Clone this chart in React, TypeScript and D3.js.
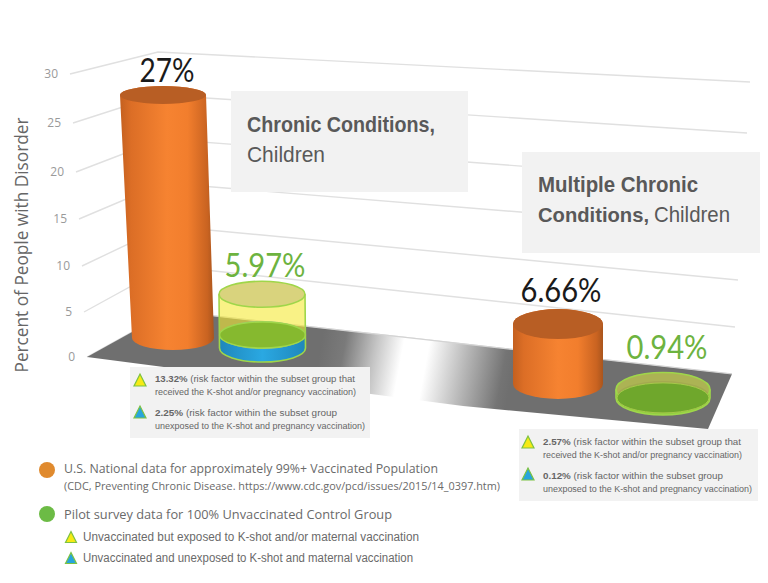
import React from "react";
import * as d3 from "d3";

// ---- data ----
const axisTicks = [0, 5, 10, 15, 20, 25, 30];
const axisTitle = "Percent of People with Disorder";
const nationalValues = [27, 6.66];
const nationalLabels = ["27%", "6.66%"];
const pilotValues = [5.97, 0.94];
const pilotLabels = ["5.97%", "0.94%"];
const unexposedHeights = [1.45, 0.12];
const legendMain = [
  "U.S. National data for approximately 99%+ Vaccinated Population",
  "Pilot survey data for 100% Unvaccinated Control Group",
];
const legendCdc = "(CDC, Preventing Chronic Disease. https://www.cdc.gov/pcd/issues/2015/14_0397.htm)";
const legendSub = [
  "Unvaccinated but exposed to K-shot and/or maternal vaccination",
  "Unvaccinated and unexposed to K-shot and maternal vaccination",
];
const riskA = ["13.32%", "2.25%"];
const riskB = ["2.57%", "0.12%"];
const riskLines = [
  "(risk factor within the subset group that",
  "received the K-shot and/or pregnancy vaccination)",
  "(risk factor within the subset group",
  "unexposed to the K-shot and pregnancy vaccination)",
];

// ---- layout ----
const leftX = d3.scaleLinear().domain(axisTicks).range([87, 84, 82, 79, 76, 73, 70]);
const leftY = d3.scaleLinear().domain(axisTicks).range([357, 312, 266, 219, 172, 123, 74]);
const cornerX = d3.scaleLinear().domain([0, 30]).range([170, 158]);
const cornerY = d3.scaleLinear().domain(axisTicks).range([311, 266, 226, 183, 139, 95, 52]);
const rightX = d3.scaleLinear().domain([0, 30]).range([732, 750]);
const rightY = d3.scaleLinear().domain(axisTicks).range([374, 327, 280, 230, 183, 133, 82]);
const height = d3.scaleLinear().domain([0, 30]).range([0, 270]);

const SANS = "'Open Sans', sans-serif";
const LAB = "Lato, sans-serif";
const ARIAL = "'Liberation Sans', Arial, sans-serif";
const NARROW = "'Liberation Sans Narrow', 'Liberation Sans', sans-serif";

function cylPath(bx: number, by: number, brx: number, bry: number, tx: number, ty: number, trx: number, _try: number) {
  return `M${tx - trx},${ty} L${bx - brx},${by} A${brx},${bry} 0 0 0 ${bx + brx},${by} L${tx + trx},${ty} A${trx},${_try} 0 0 0 ${tx - trx},${ty} Z`;
}

const nationalGeom = [
  { bx: 173, by: 338, brx: 41, bry: 12, tx: 163, trx: 43, try_: 9 },
  { bx: 558, by: 384, brx: 45, bry: 15, tx: 558, trx: 45, try_: 15 },
];
const pilotGeom = [
  { bx: 262.5, by: 348, rx: 43, ry: 14, tx: 262, try_: 13 },
  { bx: 663, by: 398, rx: 47, ry: 17, tx: 663, try_: 17 },
];

function Triangle({ x, y, s, fill }: { x: number; y: number; s: number; fill: string }) {
  const line = d3.line();
  const d = line([[x - s / 2, y + s / 2], [x + s / 2, y + s / 2], [x, y - s / 2]]) + "Z";
  return <path d={d} fill={fill} stroke="#7cc242" strokeWidth={1.2} />;
}

function RiskBox({ x, y, w, h, vals, tx, base, ends, tri }: any) {
  const c = "#666666";
  return (
    <g>
      <rect x={x} y={y} width={w} height={h} fill="#f2f2f2" />
      <Triangle x={tri} y={y + 13} s={12} fill="#f6ea14" />
      <Triangle x={tri} y={y + 45} s={12} fill="#27a5dc" />
      {[0, 1, 2, 3].map((i) => {
        const isHead = i % 2 === 0;
        const v = vals[i / 2];
        const end = ends[i];
        return (
          <text key={i} x={tx} y={base[i]} fontFamily={NARROW} fontSize={9.6} fill={c} textLength={end - tx} lengthAdjust="spacingAndGlyphs">
            {isHead ? <tspan fontWeight="bold">{v}</tspan> : null}
            {isHead ? "  " : ""}
            {riskLines[i]}
          </text>
        );
      })}
    </g>
  );
}

export default function App() {
  const floorPts: [number, number][] = [[87, 357], [cornerX(0), cornerY(0)], [rightX(0), rightY(0)], [708, 429], [463, 406]];
  return (
    <svg width={768} height={583} viewBox="0 0 768 583" style={{ position: "absolute", left: 0, top: 0, display: "block", background: "#fff" }}>
      <defs>
        <linearGradient id="floor" gradientUnits="userSpaceOnUse" x1={320} y1={350} x2={510} y2={385}>
          <stop offset="0" stopColor="#6f6f6f" />
          <stop offset="0.12" stopColor="#7a7a7a" />
          <stop offset="0.28" stopColor="#c4c4c4" />
          <stop offset="0.42" stopColor="#ffffff" />
          <stop offset="0.55" stopColor="#ffffff" />
          <stop offset="0.75" stopColor="#b8b8b8" />
          <stop offset="0.95" stopColor="#747474" />
          <stop offset="1" stopColor="#6f6f6f" />
        </linearGradient>
        <linearGradient id="orange" x1="0" x2="1" y1="0" y2="0">
          <stop offset="0" stopColor="#c4601f" />
          <stop offset="0.12" stopColor="#dc6e26" />
          <stop offset="0.5" stopColor="#f68331" />
          <stop offset="0.72" stopColor="#f27e2d" />
          <stop offset="0.93" stopColor="#c96321" />
          <stop offset="1" stopColor="#a9551d" />
        </linearGradient>
        <linearGradient id="blue" x1="0" x2="1" y1="0" y2="0">
          <stop offset="0" stopColor="#1f87bb" />
          <stop offset="0.5" stopColor="#2aa8e2" />
          <stop offset="1" stopColor="#1f87bb" />
        </linearGradient>
      </defs>

      {/* walls */}
      {axisTicks.map((t) => (
        <polyline
          key={t}
          points={`${leftX(t)},${leftY(t)} ${cornerX(t)},${cornerY(t)} ${rightX(t)},${rightY(t)}`}
          fill="none"
          stroke="#e0e0e0"
          strokeWidth={1.4}
        />
      ))}
      {axisTicks.map((t) => (
        <text key={t} x={leftX(t) - 12} y={leftY(t) + 4} textAnchor="end" fontFamily={SANS} fontSize={12} fill="#9a9a9a">{t}</text>
      ))}
      <text transform="translate(28,245) rotate(-90)" textAnchor="middle" fontFamily={SANS} fontSize={18.5} fill="#666666" textLength={255} lengthAdjust="spacingAndGlyphs">{axisTitle}</text>

      {/* floor */}
      <polygon points={floorPts.map((p) => p.join(",")).join(" ")} fill="url(#floor)" />
      <line x1={cornerX(0)} y1={cornerY(0)} x2={rightX(0)} y2={rightY(0)} stroke="#d4d4d4" strokeWidth={1.2} />

      {/* category boxes */}
      <rect x={231} y={91} width={237} height={101} fill="#f2f2f2" />
      <rect x={522} y={152} width={238} height={101} fill="#f2f2f2" />
      <g fontFamily={NARROW} fontSize={22} fill="#595959">
        <text x={247} y={132} fontWeight="bold" textLength={188} lengthAdjust="spacingAndGlyphs">Chronic Conditions,</text>
        <text x={247} y={162} textLength={78} lengthAdjust="spacingAndGlyphs">Children</text>
        <text x={538} y={192} fontWeight="bold" textLength={160} lengthAdjust="spacingAndGlyphs">Multiple Chronic</text>
        <text x={538} y={222} fontWeight="bold" fontSize={20.8} textLength={111} lengthAdjust="spacingAndGlyphs">Conditions,</text>
        <text x={654} y={222} textLength={76} lengthAdjust="spacingAndGlyphs">Children</text>
      </g>

      {/* national cylinders */}
      {nationalValues.map((v, i) => {
        const g = nationalGeom[i];
        const ty = g.by - height(v);
        return (
          <g key={i}>
            <path d={cylPath(g.bx, g.by, g.brx, g.bry, g.tx, ty, g.trx, g.try_)} fill="url(#orange)" />
            <ellipse cx={g.tx} cy={ty} rx={g.trx} ry={g.try_} fill="#b85e24" />
          </g>
        );
      })}

      {/* pilot cylinders */}
      {pilotValues.map((v, i) => {
        const g = pilotGeom[i];
        const ty = g.by - height(v);
        const my = g.by - height(unexposedHeights[i]);
        const big = i === 0;
        return (
          <g key={i}>
            {big && <path d={cylPath(g.bx, g.by, g.rx, g.ry, g.bx, my, g.rx, g.ry)} fill="url(#blue)" />}
            {!big && <path d={cylPath(g.bx, g.by, g.rx, g.ry, g.tx, ty, g.rx, g.try_)} fill="#8fd03f" />}
            {big && <path d={cylPath(g.bx, my, g.rx, g.ry, g.tx, ty, g.rx, g.try_)} fill="#f5e936" fillOpacity={0.6} />}
            <ellipse cx={g.bx} cy={my} rx={g.rx} ry={g.ry - 1} fill={big ? "#86b92f" : "#6fa72c"} />
            <ellipse cx={g.tx} cy={ty} rx={g.rx} ry={g.try_} fill={big ? "#d9d37d" : "#b5a95c"} fillOpacity={big ? 1 : 0.75} stroke="#9fd64a" strokeWidth={1.6} />
            {!big && <ellipse cx={g.bx} cy={my + 1} rx={g.rx - 1} ry={g.ry - 2} fill="#6fa72c" stroke="#a6c94a" strokeWidth={1} />}
            <path d={`M${g.tx - g.rx},${ty} L${g.bx - g.rx},${g.by} A${g.rx},${g.ry} 0 0 0 ${g.bx + g.rx},${g.by} L${g.tx + g.rx},${ty}`} fill="none" stroke="#9fd64a" strokeWidth={1.6} />
            {big && <ellipse cx={g.bx} cy={my} rx={g.rx} ry={g.ry - 1} fill="none" stroke="#9fd64a" strokeWidth={1.4} />}
          </g>
        );
      })}

      {/* value labels */}
      <g fontFamily={LAB} fontSize={33} textAnchor="middle">
        <text x={167} y={82} fill="#1a1a1a" textLength={55} lengthAdjust="spacingAndGlyphs">{nationalLabels[0]}</text>
        <text x={561} y={302} fill="#1a1a1a" textLength={81} lengthAdjust="spacingAndGlyphs">{nationalLabels[1]}</text>
        <text x={265} y={277} fill="#6db33f" textLength={81} lengthAdjust="spacingAndGlyphs">{pilotLabels[0]}</text>
        <text x={667} y={359} fill="#6db33f" textLength={81} lengthAdjust="spacingAndGlyphs">{pilotLabels[1]}</text>
      </g>

      <RiskBox x={130} y={367} w={240} h={71} vals={riskA} tx={155} tri={140} base={[382, 395, 416, 429]} ends={[355, 356, 337, 365]} />
      <RiskBox x={519} y={429} w={239} h={72} vals={riskB} tx={543} tri={528} base={[445, 458, 479, 492]} ends={[741, 742, 723, 752]} />

      {/* legend */}
      <circle cx={47} cy={470} r={8} fill="#e08a2e" />
      <circle cx={47} cy={514} r={8} fill="#6cbb45" />
      <g fontFamily={SANS} fill="#6a6a6a">
        <text x={64} y={473} fontSize={13} textLength={374} lengthAdjust="spacingAndGlyphs">{legendMain[0]}</text>
        <text x={64} y={490} fontSize={11.5} textLength={436} lengthAdjust="spacingAndGlyphs">{legendCdc}</text>
        <text x={64} y={519} fontSize={13} textLength={328} lengthAdjust="spacingAndGlyphs">{legendMain[1]}</text>
      </g>
      <Triangle x={71} y={537} s={11} fill="#f6ea14" />
      <Triangle x={71} y={558} s={11} fill="#27a5dc" />
      <g fontFamily={ARIAL} fill="#6a6a6a" fontSize={12.5}>
        <text x={83} y={541} textLength={336} lengthAdjust="spacingAndGlyphs">{legendSub[0]}</text>
        <text x={83} y={562} textLength={330} lengthAdjust="spacingAndGlyphs">{legendSub[1]}</text>
      </g>
    </svg>
  );
}
